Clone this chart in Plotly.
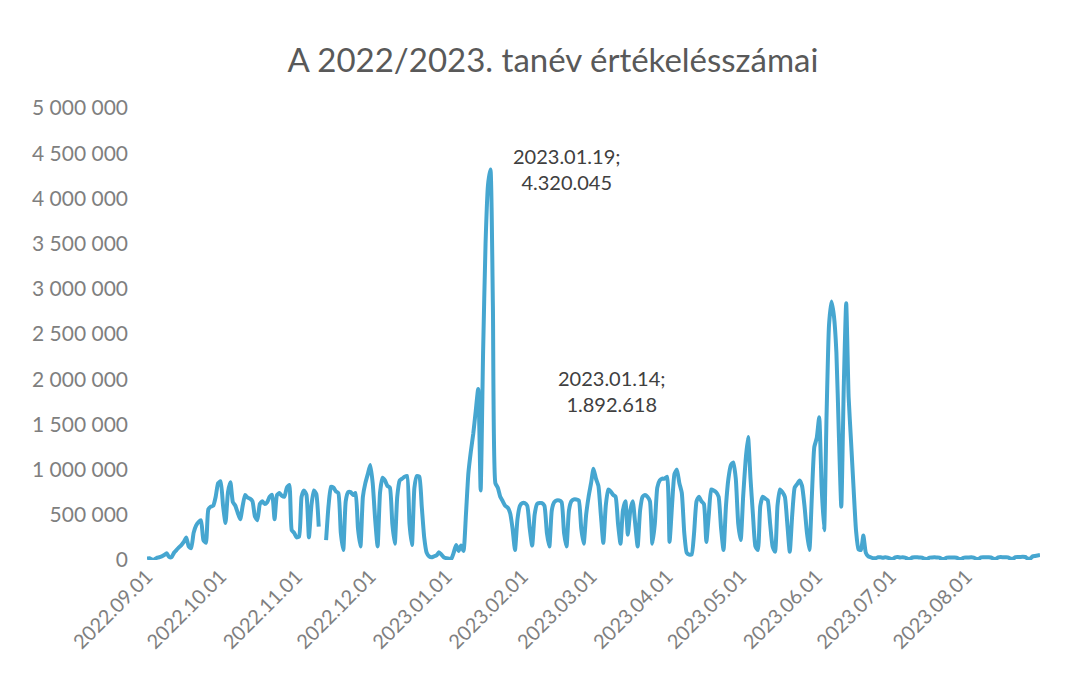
import pandas as pd
import plotly.graph_objects as go

# Daily counts in thousands (2022-09-01 .. 2023-08-31); None = missing day
sep_2022 = [15, 20, 5, 5, 25, 30, 40, 55, 75, 35, 30, 80, 110, 140, 165, 200, 250, 150, 130, 300,
            380, 420, 440, 220, 190, 560, 590, 600, 700, 850]
oct_2022 = [870, 600, 410, 750, 860, 640, 600, 520, 450, 600, 720, 690, 680, 650, 480, 440, 620, 650, 620, 640,
            700, 720, 450, 720, 740, 710, 700, 800, 830, 330, 300]
nov_2022 = [250, 260, 700, 770, 720, 250, 600, 770, 730, 370, None, None, 220, 600, 810, 800, 760, 740, 300, 110,
            650, 750, 750, 720, 740, 350, 150, 700, 850, 950]
dec_2022 = [1050, 850, 450, 150, 750, 910, 880, 820, 800, 400, 180, 700, 880, 900, 920, 930, 400, 165, 800, 930,
            920, 590, 250, 80, 40, 30, 40, 50, 85, 60, 30]
jan_2023 = [20, 15, 10, 80, 165, 100, 160, 100, 500, 960, 1200, 1400, 1650, 1892.618, 770, 2300, 3500, 4150, 4320.045, 2800,
            850, 800, 700, 650, 600, 580, 520, 350, 110, 450, 600]
feb_2023 = [630, 630, 600, 350, 160, 500, 620, 630, 630, 600, 300, 150, 550, 640, 660, 660, 640, 300, 150, 550,
            650, 670, 670, 660, 350, 180, 500, 700]
mar_2023 = [850, 1010, 900, 820, 500, 190, 600, 780, 760, 720, 700, 400, 180, 550, 650, 280, 550, 650, 400, 150,
            550, 700, 720, 700, 650, 180, 400, 800, 880, 900, 900]
apr_2023 = [920, 200, 600, 950, 1000, 850, 740, 300, 80, 60, 60, 300, 650, 700, 650, 620, 200, 500, 780, 770,
            750, 700, 350, 110, 600, 900, 1050, 1080, 900, 400]
may_2023 = [220, 700, 1100, 1360, 900, 500, 150, 110, 600, 700, 680, 660, 400, 150, 90, 600, 780, 750, 700, 400,
            90, 500, 800, 840, 880, 820, 600, 300, 110, 700, 1250]
jun_2023 = [1350, 1580, 800, 330, 1600, 2600, 2860, 2700, 2300, 1400, 590, 1900, 2840, 1800, 1300, 800, 330, 120, 110, 270,
            80, 40, 30, 20, 20, 30, 30, 25, 30, 25]
jul_2023 = [15, 12, 30, 32, 28, 30, 26, 14, 12, 28, 30, 31, 27, 25, 13, 12, 27, 29, 30, 28,
            26, 12, 11, 26, 28, 29, 27, 25, 12, 11, 27]
aug_2023 = [28, 29, 30, 27, 13, 12, 29, 30, 31, 30, 28, 14, 13, 30, 32, 31, 30, 29, 15, 14,
            31, 33, 34, 35, 33, 16, 15, 40, 45, 50, 55]

month_ticks = ["2022-09-01", "2022-10-01", "2022-11-01", "2022-12-01", "2023-01-01", "2023-02-01",
               "2023-03-01", "2023-04-01", "2023-05-01", "2023-06-01", "2023-07-01", "2023-08-01"]
y_ticks = [0, 500000, 1000000, 1500000, 2000000, 2500000, 3000000, 3500000, 4000000, 4500000, 5000000]
labelled_days = ["2023-01-19", "2023-01-14"]
title_text = "A 2022/2023. tanév értékelésszámai"

thousands = (sep_2022 + oct_2022 + nov_2022 + dec_2022 + jan_2023 + feb_2023 + mar_2023 +
             apr_2023 + may_2023 + jun_2023 + jul_2023 + aug_2023)
dates = pd.date_range("2022-09-01", "2023-08-31", freq="D")
assert len(dates) == len(thousands), (len(dates), len(thousands))
values = [None if v is None else int(round(v * 1000)) for v in thousands]
series = pd.Series(values, index=dates)

LINE = "#46A6D0"
FONT = "Lato, 'Open Sans', sans-serif"

# page body has an 8px margin, so the figure is sized/offset accordingly
W, H = 1069, 678

fig = go.Figure()
fig.add_trace(go.Scatter(x=dates, y=values, mode="lines",
                         line=dict(color=LINE, width=4, shape="spline", smoothing=0.5),
                         connectgaps=False, hoverinfo="x+y"))

shifts = {"2023-01-19": (76, 0), "2023-01-14": (133, -2)}
for d in labelled_days:
    v = int(series[pd.Timestamp(d)])
    txt = f"{pd.Timestamp(d):%Y.%m.%d};<br>{v:,}".replace(",", ".")
    xs, ys = shifts[d]
    fig.add_annotation(x=pd.Timestamp(d), y=v, text=txt, showarrow=False,
                       xshift=xs, yshift=ys, align="center",
                       font=dict(family=FONT, size=20, color="#404040"))

fig.update_layout(
    width=W, height=H,
    margin=dict(l=139, r=37, t=100, b=126),
    paper_bgcolor="white", plot_bgcolor="white",
    separators=", ",
    showlegend=False,
    title=dict(text=title_text, x=(553 - 8) / W, xanchor="center", y=1 - 52 / H, yanchor="middle",
               yref="container", font=dict(family=FONT, size=33, color="#595959")),
    font=dict(family=FONT),
)
fig.update_xaxes(type="date", range=["2022-09-01", "2023-08-31"],
                 tickvals=month_ticks, tickformat="%Y.%m.%d", tickangle=-45,
                 showgrid=False, zeroline=False, showline=False,
                 tickfont=dict(family=FONT, size=20, color="#7f7f7f"))
fig.update_yaxes(range=[0, 5000000], tickvals=y_ticks, tickformat=",d",
                 showgrid=False, zeroline=False, showline=False,
                 ticklabelstandoff=18,
                 tickfont=dict(family=FONT, size=21, color="#7f7f7f"))

fig.write_html("out.html")
